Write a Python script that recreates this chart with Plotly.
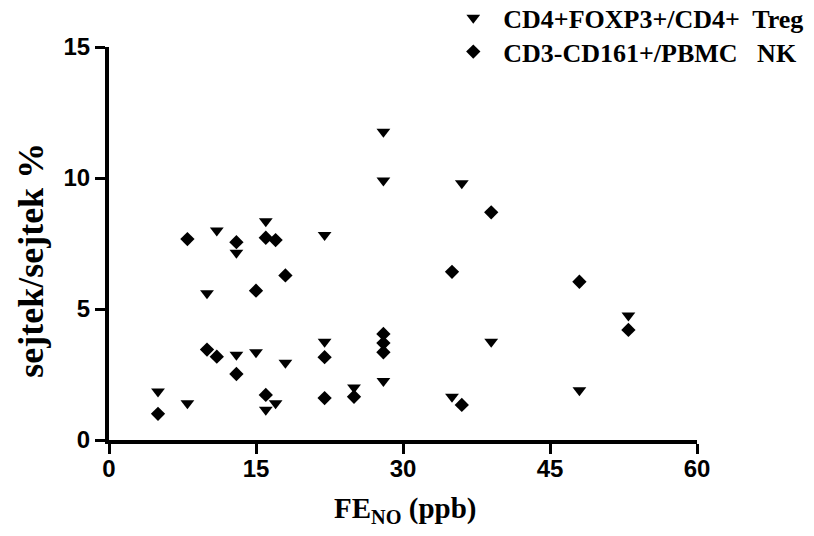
import plotly.graph_objects as go

# Treg: CD4+FOXP3+/CD4+
treg_x = [5, 8, 10, 11, 13, 13, 15, 16, 16, 17, 18, 22, 22, 25, 28, 28, 28, 35, 36, 39, 48, 53]
treg_y = [1.85, 1.4, 5.6, 8.0, 7.15, 3.25, 3.35, 8.35, 1.15, 1.4, 2.95, 7.82, 3.75, 2.0, 11.77, 9.9, 2.25, 1.65, 9.8, 3.75, 1.9, 4.75]

# NK: CD3-CD161+/PBMC
nk_x = [5, 8, 10, 11, 13, 13, 15, 16, 16, 17, 18, 22, 22, 25, 28, 28, 28, 35, 36, 39, 48, 53]
nk_y = [1.0, 7.67, 3.45, 3.18, 7.55, 2.52, 5.7, 7.72, 1.72, 7.63, 6.28, 3.16, 1.6, 1.65, 4.05, 3.7, 3.35, 6.42, 1.34, 8.69, 6.04, 4.2]

x_ticks = [0, 15, 30, 45, 60]
y_ticks = [0, 5, 10, 15]

serif = "Liberation Serif, Times New Roman, serif"
sans = "Liberation Sans, Arial, sans-serif"

fig = go.Figure()
fig.add_trace(go.Scatter(
    x=treg_x, y=treg_y, mode="markers",
    name="CD4+FOXP3+/CD4+  Treg", legend="legend",
    marker=dict(symbol="triangle-down", size=12, color="black"),
))
fig.add_trace(go.Scatter(
    x=nk_x, y=nk_y, mode="markers",
    name="CD3-CD161+/PBMC   NK", legend="legend2",
    marker=dict(symbol="diamond", size=11, color="black"),
))

leg_font = dict(family=serif, size=26, color="black", weight="bold")

fig.update_layout(
    width=814, height=536,
    margin=dict(l=101, r=125, t=39, b=104, autoexpand=False),
    paper_bgcolor="white", plot_bgcolor="white",
    showlegend=True,
    legend=dict(
        x=0.5685, y=1.074, xanchor="left", yanchor="middle",
        font=leg_font, bgcolor="rgba(0,0,0,0)", itemwidth=50,
    ),
    legend2=dict(
        x=0.5685, y=0.988, xanchor="left", yanchor="middle",
        font=leg_font, bgcolor="rgba(0,0,0,0)", itemwidth=50,
    ),
    xaxis=dict(
        range=[0, 60], tickvals=x_ticks, ticktext=[str(v) for v in x_ticks],
        showgrid=False, zeroline=False, automargin=False,
        showline=True, linecolor="black", linewidth=4,
        ticks="outside", ticklen=10, tickwidth=3, tickcolor="black",
        ticklabelstandoff=-6,
        tickfont=dict(family=sans, size=24, color="black", weight="bold"),
    ),
    yaxis=dict(
        range=[0, 15], tickvals=y_ticks, ticktext=[str(v) for v in y_ticks],
        showgrid=False, zeroline=False, automargin=False,
        showline=True, linecolor="black", linewidth=4,
        ticks="outside", ticklen=10, tickwidth=3, tickcolor="black",
        tickfont=dict(family=sans, size=24, color="black", weight="bold"),
    ),
    annotations=[
        dict(text="<b>sejtek/sejtek %</b>", textangle=-90, showarrow=False,
             xref="paper", yref="paper", x=-0.133, y=0.458,
             xanchor="center", yanchor="middle",
             font=dict(family=serif, size=36, color="black")),
        dict(text="<b>FE<sub>NO</sub> (ppb)</b>", showarrow=False,
             xref="paper", yref="paper", x=0.503, y=-0.178,
             xanchor="center", yanchor="middle",
             font=dict(family=serif, size=29, color="black")),
    ],
)

fig.write_html("out.html")
